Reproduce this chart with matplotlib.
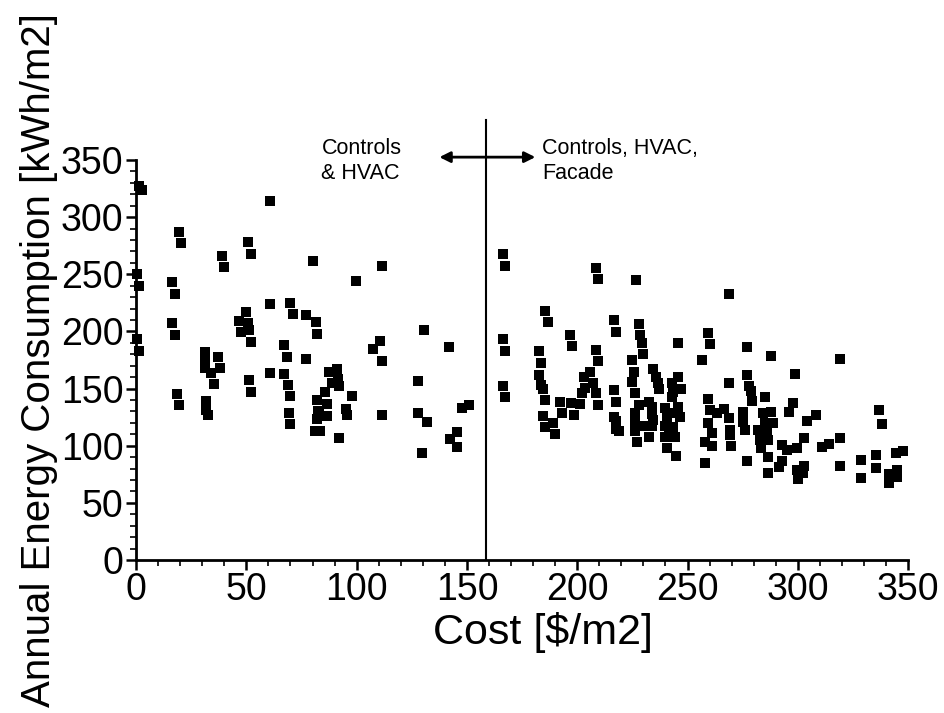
"""Annual energy consumption vs. retrofit cost scatter."""

import matplotlib.pyplot as plt
from matplotlib.ticker import MultipleLocator

# data: (cost [$/m2], energy [kWh/m2])
cost_left = [1.5, 2.5, 60.7, 19.5, 20.5, 39, 40, 50.8, 52, 80, 0.3, 1.4, 16.5, 17.5,
             16.5, 60.7, 70, 71, 77, 81.5, 49.7, 46.7, 50.8, 111.7, 99.7, 130.5,
             47.6, 51, 52, 17.7, 0.3, 1.4, 31.3, 31.3, 31.3, 37.2, 37.9, 34, 35.4,
             18.6, 19.5, 31.7, 31.5, 32.5, 67, 68.3, 77, 60.7, 67, 68.8, 70, 69.2,
             70, 51, 52, 82, 82, 82.5, 82, 81, 83.4, 110.5, 107.3, 111.5, 141.7,
             91, 87.5, 91.5, 92, 88.8, 85.7, 98, 86.4, 83, 86.4, 95, 95.6, 92.2,
             111.5, 127.8, 127.8, 131.9, 129.6, 147.9, 151, 145.5, 142.3, 145.5]
energy_left = [327, 324, 314, 287, 277, 266, 256, 278, 268, 262, 250, 240, 243, 233,
               207, 224, 225, 215, 214, 208, 217, 209, 207, 257, 244, 201,
               199.5, 201, 191, 197, 193, 183, 182, 175, 168, 177.6, 168, 163.5, 154,
               145.5, 136, 139.4, 131, 127, 188, 178, 176, 164, 163, 153.4, 143.8, 129,
               119, 157.8, 147.3, 197.7, 140, 130, 123, 113, 113, 192, 185, 174, 186.7,
               167.4, 164.8, 158, 152, 154.6, 147, 143.5, 136.2, 129.8, 126, 131.8, 126.6,
               106.7, 127, 157, 129, 121, 94, 132.7, 136, 112, 106, 99]

cost_right = [166.5, 167.4, 208.7, 209.4, 226.5, 185.5, 186.6, 216.8, 217.7, 227.9,
              228.6, 229.2, 230, 196.6, 197.6, 166.5, 167.4, 166.5, 167.4, 182.7,
              183.4, 182.5, 183.4, 184.5, 185.4, 184.4, 185.5, 189, 190, 192.3,
              193.1, 197.2, 198.4, 201.3, 202, 203.7, 203, 206, 207.3, 208.7, 209.4,
              208.7, 209.4, 216.8, 217.7, 216.8, 217.7, 217.7, 219, 224.8, 225.9,
              224.8, 226.2, 227.9, 226.3, 226.3, 226.3, 227.2,
              234.5, 235.7, 236.8, 237.2, 245.8, 242.8, 246.9, 243.3, 242.8, 232.7,
              233.7, 233.7, 234.5, 239.8, 245.8, 240.6, 246.6, 243.9, 230, 233.7,
              239.8, 243.6, 241.4, 239.8, 244.4, 232.3, 240.6, 244.8, 245.8,
              268.9, 259.1, 260, 256.7, 276.9, 288, 298.9, 268.9,
              276.8, 278, 278.6, 279.4, 285.1, 259.1, 260.2, 263.2, 266.3, 297.6,
              296.1, 275.3, 284.3, 287.7, 259.1, 268.9, 275.3, 276.1, 285.1, 288.9,
              282.1, 285.9, 282.9, 286.6, 304, 261, 269.3, 269.3, 257.9, 261, 269.9,
              283.2, 286.6, 292.7, 295, 299.5, 303, 257.9, 277.1, 292.7, 291.6, 286.6,
              299.5, 302.8, 302.5, 300,
              319, 308.4, 337, 338, 311, 313.9, 319, 319, 328.6, 328.6, 335.3, 335.3,
              344.5, 347.5, 344.8, 344.8, 341.5, 341.5]
energy_right = [267.5, 257, 255.7, 245.8, 245, 218, 208, 210, 199.7, 206.8,
                196.8, 189.8, 180, 197, 187, 193, 183, 152.5, 142.4, 182.9,
                172.6, 161.8, 152.8, 149.3, 139.7, 126.3, 116, 120, 110, 138.2,
                128.3, 137.1, 127.1, 136.5, 145.8, 150.2, 160, 164.7, 154.6, 145.8, 135.9,
                184, 173.8, 148.7, 138.5, 124.8, 121.9, 114.3, 112.6, 175, 164.7,
                155.7, 145.8, 135.9, 128.3, 119.6, 112.6, 103.2,
                166.8, 160.4, 155.1, 149.3, 159.8, 154.6, 149.3, 147.3, 142.4, 138.5,
                134.2, 127.7, 122.5, 132.7, 134.2, 124.8, 124.8, 128.9, 117.2, 117.2,
                117.2, 116.1, 109.4, 107.9, 107.9, 107.9, 97.7, 91, 189.6,
                232.7, 198.9, 188.7, 175, 186.6, 178.7, 162.7, 154.6,
                161.8, 152.2, 148.1, 139.4, 142.4, 140.6, 131.2, 128.4, 131.9, 137.1,
                129.7, 129.7, 128.4, 129.7, 120.2, 124, 121, 113.7, 119.6, 119.6,
                113.7, 112.3, 105, 105, 121.9, 110.8, 113.7, 109.4, 103.5, 99.7, 99.7,
                97.7, 90.4, 100.6, 96.2, 97.7, 106.5, 85.1, 86.9, 86.9, 81.6, 75.9,
                79, 82, 76, 71,
                175.9, 126.6, 131, 118.7, 99.2, 101.2, 107, 82.2, 87.8, 72, 92.1, 80.8,
                93.9, 95.1, 78.7, 72.9, 75, 67.1]

divider = 158.5

# basic plot settings
plt.rcParams['font.family'] = ['Liberation Sans', 'DejaVu Sans']
plt.rcParams['axes.spines.top'] = False
plt.rcParams['axes.spines.right'] = False

fig = plt.figure(figsize=(9.45, 7.13), dpi=100)
ax = fig.add_axes([0.144, 0.2146, 0.817, 0.561])

ax.scatter(cost_left + cost_right, energy_left + energy_right, marker='s', s=42,
           c='k', lw=0, clip_on=False, zorder=3)

# split line and arrows
ax.plot([divider, divider], [0, 385], color='k', lw=1.5, clip_on=False)
ax.annotate('', xy=(137.5, 352.5), xytext=(181, 352.5), annotation_clip=False,
            arrowprops=dict(arrowstyle='<|-|>', color='k', lw=2, mutation_scale=16,
                            shrinkA=0, shrinkB=0))
ax.text(84, 369, 'Controls\n& HVAC', fontsize=15.5, va='top', ha='left',
        linespacing=1.25)
ax.text(184, 369, 'Controls, HVAC,\nFacade', fontsize=15.5, va='top', ha='left',
        linespacing=1.25)

ax.set_xlim(0, 350)
ax.set_ylim(0, 350)
ax.xaxis.set_major_locator(MultipleLocator(50))
ax.xaxis.set_minor_locator(MultipleLocator(10))
ax.yaxis.set_major_locator(MultipleLocator(50))
ax.yaxis.set_minor_locator(MultipleLocator(10))
ax.tick_params(which='major', length=7, width=1.8, labelsize=27, pad=2)
ax.tick_params(which='minor', length=4, width=1.2)
for side in ['left', 'bottom']:
    ax.spines[side].set_linewidth(2)

ax.set_xlabel('Cost [$/m2]', fontsize=31, labelpad=0)
ax.xaxis.set_label_coords(0.527, -0.13)
ax.set_ylabel('Annual Energy Consumption [kWh/m2]', fontsize=29, labelpad=2)

plt.savefig('out.png', dpi=100)
